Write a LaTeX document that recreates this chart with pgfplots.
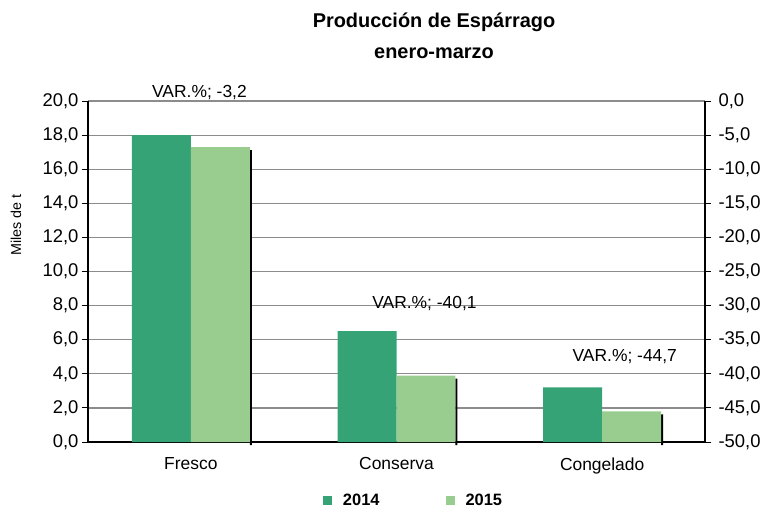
\documentclass[border=0pt]{standalone}
\usepackage{fontspec}
\setmainfont{Liberation Sans}
\usepackage{pgfplots}
\pgfplotsset{compat=1.18}
\definecolor{dg}{HTML}{35A375}
\definecolor{lg}{HTML}{98CD8F}
\definecolor{gridc}{HTML}{8C8C8C}
\begin{document}
\begin{tikzpicture}
\path[use as bounding box] (0,0) rectangle (765bp,-511bp);
\node[font=\bfseries\fontsize{20}{23}\selectfont] at (434bp,-22bp) {Producción de Espárrago};
\node[font=\bfseries\fontsize{20}{23}\selectfont] at (434bp,-53bp) {enero-marzo};
\node[rotate=90,font=\fontsize{14.4}{17}\selectfont] at (16bp,-225bp) {Miles de t};
\begin{axis}[
  at={(88bp,-442bp)}, anchor=south west,
  scale only axis, width=617bp, height=341bp,
  xmin=-0.5, xmax=2.5, ymin=0, ymax=20,
  axis x line*=bottom, axis y line*=left,
  axis line style={line width=1.1pt, black},
  xtick={0,1,2}, xticklabels={Fresco,Conserva,Congelado},
  x tick style={draw=none},
  extra x ticks={0.5,1.5}, extra x tick labels={},
  extra x tick style={major tick length=6bp, tick align=outside, tick style={draw=black, line width=1pt}, grid=none},
  ytick={0,2,...,20},
  tick align=outside, major tick length=6bp,
  y tick style={black, line width=1pt},
  ymajorgrids, grid style={gridc, line width=1.2pt},
  tick label style={font=\fontsize{18.5}{21}\selectfont},
  xticklabel style={font=\fontsize{17.5}{20}\selectfont, yshift=-6bp},
  /pgf/number format/.cd, use comma, fixed, fixed zerofill, precision=1, assume math mode=true,
  /pgfplots/.cd,
  clip mode=individual,
  legend columns=2,
  legend style={draw=none, fill=none, at={(axis description cs:0.5276,-0.172)}, anchor=center,
    font=\bfseries\fontsize{16.5}{19}\selectfont, /tikz/every even column/.append style={column sep=64bp}},
  legend image code/.code={\fill[#1] (0bp,-4.5bp) rectangle (9bp,4.5bp); \path (18bp,0bp);},
]
\addplot[ybar, bar width=0.2868, bar shift=-0.1434, fill=dg, draw=none] coordinates {(0,18.0) (1,6.5) (2,3.2)};
\addlegendentry{2014}
\addplot[ybar, bar width=0.0097, bar shift=0.2917, fill=black, draw=none, yshift=-3bp, forget plot] coordinates {(0,17.3) (1,3.9) (2,1.8)};
\addplot[ybar, bar width=0.2868, bar shift=0.1434, fill=lg, draw=none] coordinates {(0,17.3) (1,3.9) (2,1.8)};
\addlegendentry{2015}
\node[font=\fontsize{17.5}{20}\selectfont] at (axis cs:0.042,20.5) {VAR.\%; -3,2};
\node[font=\fontsize{17.5}{20}\selectfont] at (axis cs:1.136,8.1) {VAR.\%; -40,1};
\node[font=\fontsize{17.5}{20}\selectfont] at (axis cs:2.11,5.0) {VAR.\%; -44,7};
\end{axis}
\begin{axis}[
  at={(88bp,-442bp)}, anchor=south west,
  scale only axis, width=617bp, height=341bp,
  xmin=-0.5, xmax=2.5, ymin=-50, ymax=0,
  axis x line=none, axis y line*=right,
  axis line style={line width=1.1pt, black},
  ytick={-50,-45,...,0},
  tick align=outside, major tick length=6bp,
  y tick style={black, line width=1pt},
  tick label style={font=\fontsize{18.5}{21}\selectfont},
  yticklabel style={xshift=4bp},
  /pgf/number format/.cd, use comma, fixed, fixed zerofill, precision=1, assume math mode=true,
]
\addplot[draw=none] coordinates {(0,-50)};
\end{axis}
\end{tikzpicture}
\end{document}
